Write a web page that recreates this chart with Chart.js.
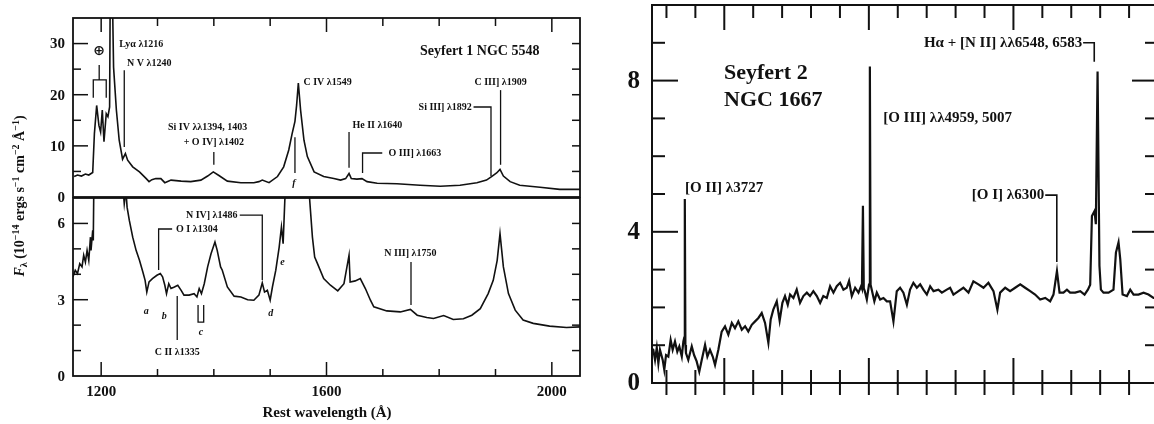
<!DOCTYPE html>
<html>
<head>
<meta charset="utf-8">
<script src="https://cdn.jsdelivr.net/npm/chart.js@4.4.1/dist/chart.umd.min.js"></script>
<style>
  html, body { margin: 0; background: #fff; }
  #wrap { position: relative; width: 1154px; height: 424px; overflow: hidden; background: #fff; }
  canvas { position: absolute; top: 0; }
</style>
</head>
<body>
<div id="wrap">
  <canvas id="s1top" width="600" height="424" style="left:0"></canvas>
  <canvas id="s1bot" width="600" height="424" style="left:0"></canvas>
  <canvas id="s2" width="560" height="424" style="left:600px"></canvas>
</div>
<script>
/* ===== Data: Seyfert 1 NGC 5548, upper panel (full scale) ===== */
const s1TopWave = [1152, 1158, 1165, 1172, 1178, 1185, 1188, 1192, 1196, 1199, 1202, 1205, 1209, 1212, 1215, 1217,
  1222, 1227, 1232, 1238, 1243, 1247, 1256, 1268, 1280, 1285, 1290, 1297, 1306, 1313, 1324, 1342, 1359, 1377,
  1389, 1399, 1409, 1424, 1448, 1471, 1480, 1486, 1498, 1513, 1524, 1533, 1539, 1544, 1547, 1550, 1554, 1560,
  1566, 1578, 1595, 1613, 1625, 1634, 1640, 1644, 1654, 1663, 1672, 1690, 1725, 1766, 1802, 1837, 1867, 1884,
  1893, 1902, 1908, 1914, 1926, 1943, 1979, 2014, 2050];
const s1TopFlux = [4.0, 4.3, 4.1, 4.5, 4.3, 4.8, 12.4, 17.9, 14.0, 12.7, 17.0, 10.8, 16.3, 15.7, 17.6, 60,
  25.4, 17.0, 11.1, 7.4, 8.5, 7.2, 5.9, 4.9, 3.6, 3.0, 3.4, 3.6, 3.6, 2.8, 3.3, 3.1, 3.0, 3.3,
  4.1, 4.9, 4.2, 3.1, 2.8, 2.8, 3.0, 3.3, 2.8, 4.0, 5.9, 9.2, 12.4, 14.8, 18.0, 22.3, 17.0, 11.1,
  7.9, 4.9, 4.0, 3.6, 3.3, 3.6, 4.6, 3.6, 3.5, 3.6, 3.0, 2.7, 2.6, 2.3, 2.1, 2.3, 2.8, 3.3,
  4.0, 4.7, 5.4, 4.1, 3.0, 2.3, 1.9, 1.5, 1.5];

/* ===== Data: Seyfert 1 NGC 5548, lower panel (expanded scale) ===== */
const s1BotWave = [1150, 1154, 1158, 1162, 1166, 1169, 1172, 1175, 1178, 1181, 1182, 1185, 1186, 1190, 1200,
  1205, 1217, 1232, 1238, 1241, 1244, 1246, 1250, 1256, 1262, 1268, 1274, 1278, 1281, 1285, 1291, 1299, 1305,
  1309, 1313, 1316, 1320, 1324, 1330, 1336, 1342, 1347, 1356, 1365, 1370, 1374, 1378, 1383, 1389, 1395, 1402,
  1406, 1412, 1415, 1424, 1436, 1448, 1460, 1471, 1480, 1486, 1490, 1495, 1500, 1504, 1510, 1516, 1520, 1523,
  1526, 1535, 1550, 1565, 1570, 1575, 1579, 1584, 1595, 1607, 1620, 1631, 1640, 1642, 1651, 1660, 1669, 1678,
  1684, 1707, 1731, 1749, 1761, 1778, 1790, 1808, 1825, 1843, 1858, 1873, 1887, 1896, 1903, 1908, 1914, 1923,
  1935, 1949, 1967, 1996, 2026, 2050];
const s1BotFlux = [3.9, 4.16, 4.03, 4.42, 4.29, 4.75, 4.48, 4.94, 4.55, 5.46, 4.94, 5.73, 5.33, 14, 13,
  11, 60, 12, 7.6, 6.77, 7.3, 6.64, 6.12, 5.46, 4.94, 4.55, 4.09, 3.76, 3.3, 3.7, 3.83, 3.96, 4.03,
  3.9, 3.57, 3.24, 3.63, 3.44, 3.5, 3.57, 3.37, 3.18, 3.18, 3.24, 3.11, 3.44, 3.24, 3.63, 4.29, 4.81, 5.27,
  4.94, 4.29, 4.16, 3.5, 3.14, 3.11, 3.0, 2.98, 3.18, 3.66, 3.3, 3.37, 2.98, 3.5, 4.16, 5.07, 5.86, 5.2,
  6.9, 10, 22, 8, 6.97, 5.46, 4.68, 4.42, 3.83, 3.57, 3.35, 3.63, 4.75, 3.7, 3.74, 3.83, 3.44, 2.98,
  2.72, 2.56, 2.52, 2.62, 2.39, 2.3, 2.26, 2.38, 2.22, 2.25, 2.39, 2.65, 3.24, 3.76, 4.55, 5.6, 4.29, 3.24,
  2.59, 2.2, 2.07, 1.96, 1.91, 1.93];

/* ===== Data: Seyfert 2 NGC 1667 ===== */
const s2Wave = [3503, 3509, 3521, 3533, 3544, 3555, 3574, 3585, 3597, 3613, 3629, 3643, 3659, 3675, 3689, 3706,
  3717, 3723, 3727, 3731, 3735, 3751, 3775, 3791, 3809, 3827, 3844, 3867, 3883, 3901, 3920, 3936, 3959, 3982,
  4005, 4028, 4052, 4074, 4097, 4121, 4144, 4166, 4190, 4213, 4236, 4259, 4282, 4305, 4321, 4339, 4363, 4383,
  4402, 4420, 4439, 4455, 4478, 4501, 4524, 4547, 4571, 4593, 4616, 4640, 4663, 4685, 4709, 4732, 4755, 4778,
  4801, 4824, 4847, 4863, 4882, 4905, 4928, 4946, 4952, 4959, 4965, 4972, 4986, 5001, 5007, 5012, 5020, 5038,
  5055, 5078, 5101, 5124, 5147, 5170, 5193, 5216, 5239, 5263, 5285, 5308, 5332, 5355, 5377, 5401, 5424, 5447,
  5481, 5505, 5539, 5562, 5585, 5620, 5654, 5689, 5723, 5758, 5793, 5827, 5862, 5889, 5908, 5943, 5977, 6012,
  6047, 6081, 6116, 6150, 6185, 6220, 6254, 6277, 6301, 6319, 6346, 6370, 6392, 6427, 6462, 6492, 6515, 6531,
  6543, 6561, 6570, 6582, 6595, 6605, 6623, 6658, 6692, 6709, 6727, 6739, 6755, 6785, 6808, 6831, 6865, 6900,
  6934, 6969, 7000];
const s2Flux = [0.9, 0.88, 0.61, 0.93, 0.52, 0.88, 0.61, 0.35, 0.74, 0.70, 1.14, 0.88, 1.10, 0.83, 0.97, 0.70,
  1.10, 1.2, 4.87, 1.0, 0.79, 0.61, 0.97, 0.74, 0.57, 0.30, 0.61, 1.01, 0.70, 0.88, 0.70, 0.48, 0.88, 1.36,
  1.50, 1.28, 1.59, 1.45, 1.63, 1.41, 1.50, 1.36, 1.54, 1.63, 1.72, 1.85, 1.59, 1.06, 1.68, 1.94, 2.16, 1.65,
  2.12, 2.30, 2.07, 2.34, 2.25, 2.47, 2.12, 2.30, 2.39, 2.30, 2.43, 2.30, 2.12, 2.30, 2.25, 2.56, 2.39, 2.56,
  2.65, 2.47, 2.52, 2.70, 2.30, 2.52, 2.39, 2.56, 2.5, 4.69, 2.5, 2.43, 2.21, 2.6, 8.37, 2.6, 2.47, 2.16,
  2.39, 2.21, 2.25, 2.16, 2.16, 1.63, 2.43, 2.52, 2.39, 2.07, 2.47, 2.65, 2.52, 2.61, 2.47, 2.34, 2.56, 2.43,
  2.47, 2.39, 2.47, 2.52, 2.34, 2.43, 2.52, 2.39, 2.69, 2.61, 2.52, 2.65, 2.43, 1.94, 2.39, 2.52, 2.43, 2.52,
  2.61, 2.52, 2.43, 2.34, 2.21, 2.25, 2.16, 2.34, 2.96, 2.39, 2.39, 2.47, 2.39, 2.39, 2.43, 2.34, 2.47, 2.60,
  4.42, 4.55, 4.20, 8.24, 3.10, 2.47, 2.39, 2.39, 2.47, 3.45, 3.72, 3.27, 2.34, 2.30, 2.47, 2.34, 2.34, 2.39,
  2.34, 2.25, 2.25];

/* ===== Axes ===== */
const s1XLabels = [1200, 1600, 2000];
const s1XMinor = [1300, 1400, 1500, 1700, 1800, 1900];
const s1TopYLabels = [0, 10, 20, 30];
const s1TopYMinor = [5, 15, 25];
const s1BotYLabels = [0, 3, 6];
const s1BotYMinor = [1, 2, 4, 5];
const s2YLabels = [0, 4, 8];
const s2YMinor = [1, 2, 3, 5, 6, 7, 9];
const s2XMajor = [4000, 5000, 6000];
const s2XMinor = [3600, 3800, 4200, 4400, 4600, 4800, 5200, 5400, 5600, 5800, 6200, 6400, 6600, 6800];

const INK = '#111';
const SERIF = '"Liberation Serif", "Times New Roman", "DejaVu Serif", serif';
const bold = px => `bold ${px}px ${SERIF}`;

function pts(xs, ys) { return xs.map((x, i) => ({ x, y: ys[i] })); }

function richText(ctx, runs, size, cx, cy) {
  const fontFor = r => `${r.italic ? 'italic ' : ''}bold ${r.sup || r.sub ? Math.round(size * 0.7) : size}px ${SERIF}`;
  ctx.save();
  ctx.translate(cx, cy);
  ctx.rotate(-Math.PI / 2);
  let w = 0;
  runs.forEach(r => { ctx.font = fontFor(r); w += ctx.measureText(r.t).width; });
  let x = -w / 2;
  ctx.textAlign = 'left';
  ctx.textBaseline = 'alphabetic';
  runs.forEach(r => {
    ctx.font = fontFor(r);
    const dy = r.sup ? -size * 0.38 : r.sub ? size * 0.22 : 0;
    ctx.fillText(r.t, x, size * 0.35 + dy);
    x += ctx.measureText(r.t).width;
  });
  ctx.restore();
}

/* frame, inward ticks, labels and line identifications */
function makeFrame(cfg) {
  return {
    id: 'frame',
    afterDatasetsDraw(chart) {
      const { ctx, chartArea: a } = chart;
      const X = v => chart.scales.x.getPixelForValue(v);
      const Y = v => chart.scales.y.getPixelForValue(v);
      ctx.save();
      ctx.strokeStyle = INK;
      ctx.fillStyle = INK;
      ctx.lineWidth = cfg.frame;
      ctx.strokeRect(a.left, a.top, a.right - a.left, a.bottom - a.top);

      ctx.lineWidth = cfg.tickWidth;
      cfg.ticks.forEach(t => t.values.forEach(v => {
        ctx.beginPath();
        if (t.side === 'left') { const p = Y(v); ctx.moveTo(a.left, p); ctx.lineTo(a.left + t.len, p); }
        if (t.side === 'right') { const p = Y(v); ctx.moveTo(a.right, p); ctx.lineTo(a.right - t.len, p); }
        if (t.side === 'top') { const p = X(v); ctx.moveTo(p, a.top); ctx.lineTo(p, a.top + t.len); }
        if (t.side === 'bottom') { const p = X(v); ctx.moveTo(p, a.bottom + (t.out || 0)); ctx.lineTo(p, a.bottom - t.len); }
        ctx.stroke();
      }));

      if (cfg.yLabels) {
        ctx.font = cfg.yLabels.font;
        ctx.textAlign = 'right';
        ctx.textBaseline = 'middle';
        cfg.yLabels.values.forEach(v => ctx.fillText(String(v), a.left - cfg.yLabels.gap, Y(v) + 1));
      }
      if (cfg.xLabels) {
        ctx.font = cfg.xLabels.font;
        ctx.textAlign = 'center';
        ctx.textBaseline = 'middle';
        cfg.xLabels.values.forEach(v => ctx.fillText(String(v), X(v), a.bottom + cfg.xLabels.gap));
      }

      ctx.lineWidth = cfg.noteWidth;
      (cfg.lines || []).forEach(l => {
        ctx.beginPath();
        l.forEach(([u, v], i) => i ? ctx.lineTo(X(u), Y(v)) : ctx.moveTo(X(u), Y(v)));
        ctx.stroke();
      });
      (cfg.notes || []).forEach(n => {
        ctx.font = n.font;
        ctx.textAlign = n.align || 'left';
        ctx.textBaseline = 'middle';
        ctx.fillText(n.text, X(n.x), Y(n.y));
      });
      if (cfg.extra) cfg.extra(ctx, a);
      ctx.restore();
    }
  };
}

function spectrum(id, data, xr, yr, pad, width, frameCfg) {
  return new Chart(document.getElementById(id), {
    type: 'line',
    data: { datasets: [{ data, borderColor: INK, borderWidth: width, pointRadius: 0, tension: 0, fill: false }] },
    options: {
      responsive: false,
      animation: false,
      events: [],
      layout: { padding: pad },
      plugins: { legend: { display: false }, tooltip: { enabled: false } },
      scales: {
        x: { type: 'linear', min: xr[0], max: xr[1], display: false },
        y: { type: 'linear', min: yr[0], max: yr[1], display: false }
      }
    },
    plugins: [makeFrame(frameCfg)]
  });
}

const n10 = bold(10);

/* ===== Seyfert 1, upper ===== */
spectrum('s1top', pts(s1TopWave, s1TopFlux), [1150, 2050], [0, 35],
  { left: 73, top: 18, right: 20, bottom: 227 }, 1.6, {
    frame: 1.8, tickWidth: 1.5, noteWidth: 1.3,
    ticks: [
      { side: 'left', values: s1TopYLabels.slice(1), len: 15 },
      { side: 'left', values: s1TopYMinor, len: 8 },
      { side: 'right', values: [...s1TopYLabels.slice(1), ...s1TopYMinor], len: 8 },
      { side: 'top', values: s1XLabels, len: 14 },
      { side: 'top', values: s1XMinor, len: 8 }
    ],
    yLabels: { values: s1TopYLabels, font: bold(15), gap: 8 },
    lines: [
      [[1196.5, 25.8], [1196.5, 22.9]],
      [[1186, 19.4], [1186, 22.9], [1209, 22.9], [1209, 19.4]],
      [[1241, 24.8], [1241, 9.8]],
      [[1400, 8.8], [1400, 6.3]],
      [[1544, 11.7], [1544, 4.7]],
      [[1640, 12.7], [1640, 5.7]],
      [[1699, 8.6], [1664, 8.6], [1664, 4.7]],
      [[1861, 17.6], [1892, 17.6], [1892, 4.1]],
      [[1909, 20.9], [1909, 6.3]]
    ],
    notes: [
      { text: '\u2295', x: 1196.5, y: 28.4, font: `bold 14px "DejaVu Sans", ${SERIF}`, align: 'center' },
      { text: 'Ly\u03b1 \u03bb1216', x: 1232, y: 29.9, font: n10 },
      { text: 'N V \u03bb1240', x: 1246, y: 26.2, font: n10 },
      { text: 'Si IV \u03bb\u03bb1394, 1403', x: 1389, y: 13.7, font: n10, align: 'center' },
      { text: '+ O IV] \u03bb1402', x: 1400, y: 10.6, font: n10, align: 'center' },
      { text: 'C IV \u03bb1549', x: 1559, y: 22.5, font: n10 },
      { text: 'f', x: 1542, y: 2.7, font: `italic bold 10px ${SERIF}`, align: 'center' },
      { text: 'He II \u03bb1640', x: 1646, y: 13.9, font: n10 },
      { text: 'O III] \u03bb1663', x: 1710, y: 8.6, font: n10 },
      { text: 'Si III] \u03bb1892', x: 1858, y: 17.6, font: n10, align: 'right' },
      { text: 'C III] \u03bb1909', x: 1909, y: 22.5, font: n10, align: 'center' },
      { text: 'Seyfert 1 NGC 5548', x: 1766, y: 28.4, font: bold(14) }
    ],
    extra(ctx) {
      richText(ctx, [
        { t: 'F', italic: true }, { t: '\u03bb', sub: true }, { t: ' (10' }, { t: '\u221214', sup: true },
        { t: ' ergs s' }, { t: '\u22121', sup: true }, { t: ' cm' }, { t: '\u22122', sup: true },
        { t: ' \u00c5' }, { t: '\u22121', sup: true }, { t: ')' }
      ], 14, 19, 196);
    }
  });

/* ===== Seyfert 1, lower ===== */
spectrum('s1bot', pts(s1BotWave, s1BotFlux), [1150, 2050], [0, 7],
  { left: 73, top: 198, right: 20, bottom: 48 }, 1.6, {
    frame: 1.8, tickWidth: 1.5, noteWidth: 1.3,
    ticks: [
      { side: 'left', values: s1BotYLabels.slice(1), len: 15 },
      { side: 'left', values: s1BotYMinor, len: 8 },
      { side: 'right', values: [...s1BotYLabels.slice(1), ...s1BotYMinor], len: 8 },
      { side: 'bottom', values: s1XLabels, len: 14 },
      { side: 'bottom', values: s1XMinor, len: 7 }
    ],
    yLabels: { values: s1BotYLabels, font: bold(15), gap: 8 },
    xLabels: { values: s1XLabels, font: bold(15), gap: 16 },
    lines: [
      [[1326, 5.78], [1302, 5.78], [1302, 4.17]],
      [[1446, 6.33], [1486, 6.33], [1486, 3.78]],
      [[1335, 3.15], [1335, 1.42]],
      [[1372, 2.79], [1372, 2.12], [1382, 2.12], [1382, 2.79]],
      [[1750, 4.48], [1750, 2.79]]
    ],
    notes: [
      { text: 'O I \u03bb1304', x: 1333, y: 5.78, font: n10 },
      { text: 'N IV] \u03bb1486', x: 1442, y: 6.33, font: n10, align: 'right' },
      { text: 'C II \u03bb1335', x: 1335, y: 0.94, font: n10, align: 'center' },
      { text: 'a', x: 1280, y: 2.52, font: `italic bold 10px ${SERIF}`, align: 'center' },
      { text: 'b', x: 1312, y: 2.36, font: `italic bold 10px ${SERIF}`, align: 'center' },
      { text: 'c', x: 1377, y: 1.73, font: `italic bold 10px ${SERIF}`, align: 'center' },
      { text: 'd', x: 1501, y: 2.48, font: `italic bold 10px ${SERIF}`, align: 'center' },
      { text: 'e', x: 1522, y: 4.48, font: `italic bold 10px ${SERIF}`, align: 'center' },
      { text: 'N III] \u03bb1750', x: 1749, y: 4.84, font: n10, align: 'center' }
    ],
    extra(ctx) {
      ctx.font = bold(15);
      ctx.textAlign = 'center';
      ctx.textBaseline = 'middle';
      ctx.fillText('Rest wavelength (\u00c5)', 327, 413);
    }
  });

/* ===== Seyfert 2 ===== */
const n15 = bold(15);
spectrum('s2', pts(s2Wave, s2Flux), [3500, 7000], [0, 10],
  { left: 52, top: 5, right: 2, bottom: 41 }, 2.2, {
    frame: 2, tickWidth: 2, noteWidth: 1.6,
    ticks: [
      { side: 'left', values: s2YLabels.slice(1), len: 26 },
      { side: 'left', values: s2YMinor, len: 13 },
      { side: 'right', values: s2YLabels.slice(1), len: 26 },
      { side: 'right', values: s2YMinor, len: 13 },
      { side: 'top', values: s2XMajor, len: 25 },
      { side: 'top', values: s2XMinor, len: 13 },
      { side: 'bottom', values: s2XMajor, len: 25, out: 12 },
      { side: 'bottom', values: s2XMinor, len: 13, out: 12 }
    ],
    yLabels: { values: s2YLabels, font: bold(25), gap: 12 },
    lines: [
      [[6220, 4.97], [6300, 4.97], [6300, 3.2]],
      [[6482, 9.0], [6559, 9.0], [6559, 8.5]]
    ],
    notes: [
      { text: 'Seyfert 2', x: 3998, y: 8.2, font: bold(22) },
      { text: 'NGC 1667', x: 3998, y: 7.49, font: bold(22) },
      { text: '[O II] \u03bb3727', x: 3728, y: 5.16, font: n15 },
      { text: '[O III] \u03bb\u03bb4959, 5007', x: 5099, y: 7.01, font: n15 },
      { text: '[O I] \u03bb6300', x: 6213, y: 4.97, font: n15, align: 'right' },
      { text: 'H\u03b1 + [N II] \u03bb\u03bb6548, 6583', x: 6476, y: 9.0, font: n15, align: 'right' }
    ]
  });
</script>
</body>
</html>
